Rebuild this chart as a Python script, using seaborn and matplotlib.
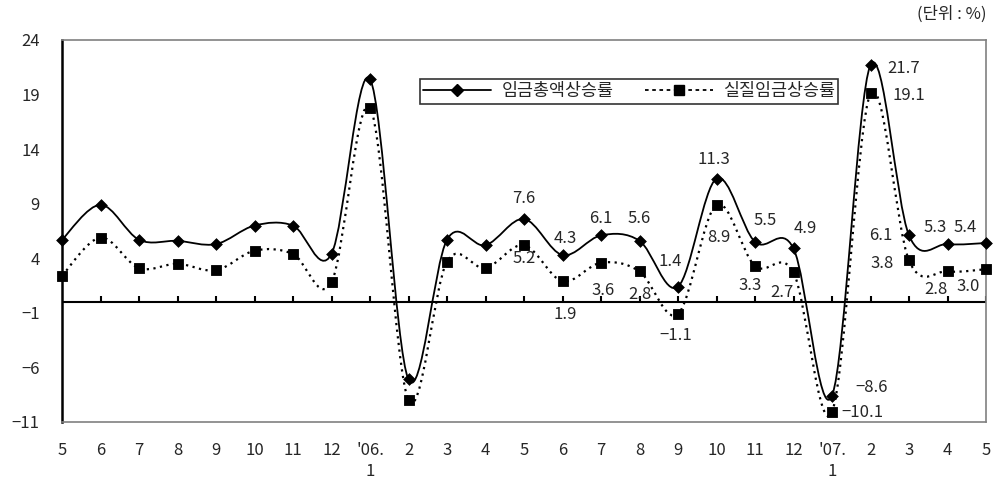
import numpy as np
import matplotlib.pyplot as plt
import pandas as pd
import seaborn as sns
from matplotlib.path import Path
from matplotlib.patches import PathPatch
from matplotlib.lines import Line2D

# 데이터 (2005.5 ~ 2007.5, 전년동월대비 %)
months = ['5', '6', '7', '8', '9', '10', '11', '12', "'06.\n1", '2', '3', '4',
          '5', '6', '7', '8', '9', '10', '11', '12', "'07.\n1", '2', '3', '4', '5']
nominal = [5.7, 8.9, 5.7, 5.6, 5.3, 7.0, 7.0, 4.4, 20.4, -7.1, 5.7, 5.2,
           7.6, 4.3, 6.1, 5.6, 1.4, 11.3, 5.5, 4.9, -8.6, 21.7, 6.1, 5.3, 5.4]
real = [2.4, 5.9, 3.1, 3.5, 2.9, 4.7, 4.4, 1.8, 17.8, -9.0, 3.7, 3.1,
        5.2, 1.9, 3.6, 2.8, -1.1, 8.9, 3.3, 2.7, -10.1, 19.1, 3.8, 2.8, 3.0]
name_nominal = '임금총액상승률'
name_real = '실질임금상승률'

df = pd.DataFrame({'x': np.arange(len(months)), 'nominal': nominal, 'real': real})

# 라벨 위치 (offset pixels), 후반부만 표시
off_nom = {12: (0, 20), 13: (3, 17), 14: (0, 17), 15: (0, 22), 16: (-8, 25),
           17: (-3, 19), 18: (10, 21), 19: (12, 20), 20: (40, 8), 21: (33, -3),
           22: (-28, 0), 23: (-12, 17), 24: (-21, 16)}
off_real = {12: (0, -13), 13: (3, -33), 14: (2, -28), 15: (0, -23), 16: (-2, -22),
            17: (2, -33), 18: (-5, -20), 19: (-12, -20), 20: (30, 0), 21: (38, -2),
            22: (-27, -3), 23: (-12, -18), 24: (-18, -17)}


def smooth_path(xs, ys):
    # 엑셀식 부드러운 선 (Catmull-Rom -> Bezier)
    p = np.column_stack([xs, ys]).astype(float)
    verts = [p[0]]
    codes = [Path.MOVETO]
    n = len(p)
    for i in range(n - 1):
        p0 = p[i - 1] if i > 0 else p[i]
        p3 = p[i + 2] if i + 2 < n else p[i + 1]
        c1 = p[i] + (p[i + 1] - p0) / 6
        c2 = p[i + 1] - (p3 - p[i]) / 6
        verts += [c1, c2, p[i + 1]]
        codes += [Path.CURVE4] * 3
    return Path(verts, codes)


sns.set_style('white')
plt.rcParams['font.family'] = ['Noto Sans CJK KR', 'DejaVu Sans']

fig, ax = plt.subplots(figsize=(9.96, 4.8), dpi=100)
fig.subplots_adjust(left=62 / 996, right=986 / 996, top=1 - 40 / 480, bottom=1 - 422 / 480)

ax.add_patch(PathPatch(smooth_path(df['x'], df['nominal']), fill=False,
                       edgecolor='black', lw=1.3, zorder=3))
ax.add_patch(PathPatch(smooth_path(df['x'], df['real']), fill=False,
                       edgecolor='black', lw=1.6, linestyle=(0, (1, 2)), zorder=3))

sns.scatterplot(data=df, x='x', y='nominal', marker='D', s=36, color='black',
                edgecolor='black', ax=ax, zorder=4, clip_on=False, legend=False)
sns.scatterplot(data=df, x='x', y='real', marker='s', s=58, color='black',
                edgecolor='black', ax=ax, zorder=4, clip_on=False, legend=False)

for i, (dx, dy) in off_nom.items():
    ax.annotate(f'{nominal[i]:.1f}'.replace('-', '\u2212'), (i, nominal[i]),
                xytext=(dx, dy), textcoords='offset pixels',
                ha='center', va='center', fontsize=12, zorder=5)
for i, (dx, dy) in off_real.items():
    ax.annotate(f'{real[i]:.1f}'.replace('-', '\u2212'), (i, real[i]),
                xytext=(dx, dy), textcoords='offset pixels',
                ha='center', va='center', fontsize=12, zorder=5)

# 축 설정
ax.set_xlim(0, len(months) - 1)
ax.set_ylim(-11, 24)
ax.set_yticks(np.arange(-11, 25, 5))
ax.set_xticks(df['x'])
ax.set_xticklabels(months, linespacing=1.3)
ax.tick_params(axis='x', length=0, pad=14.5, labelsize=12)
ax.tick_params(axis='y', direction='in', length=6, width=1.5, pad=16, labelsize=12)
ax.set_xlabel('')
ax.set_ylabel('')

for s in ['top', 'right', 'bottom']:
    ax.spines[s].set_color('#808080')
    ax.spines[s].set_linewidth(1.2)
ax.spines['left'].set_color('black')
ax.spines['left'].set_linewidth(1.8)

# 0 기준선과 눈금
ax.axhline(0, color='black', lw=1.5, zorder=2)
ax.vlines(df['x'][1:], 0, 0.55, color='black', lw=1.5, zorder=2)

handles = [Line2D([], [], color='black', lw=1.3, marker='D', markersize=6),
           Line2D([], [], color='black', lw=1.3, linestyle=(0, (2, 2)), marker='s', markersize=7)]
leg = ax.legend(handles, [name_nominal, name_real], ncol=2, loc='upper left',
                bbox_to_anchor=((420 - 62) / 924, 1 - (79 - 40) / 382),
                borderaxespad=0, frameon=True, fancybox=False, fontsize=12.5,
                handlelength=3.9, columnspacing=1.8, handletextpad=0.6, borderpad=0.2)
leg.get_frame().set_edgecolor('black')
leg.get_frame().set_linewidth(1.2)

fig.text(986 / 996, 1 - 14 / 480, '(단위 : %)', ha='right', va='center', fontsize=12)

fig.savefig('out.png', dpi=100)
